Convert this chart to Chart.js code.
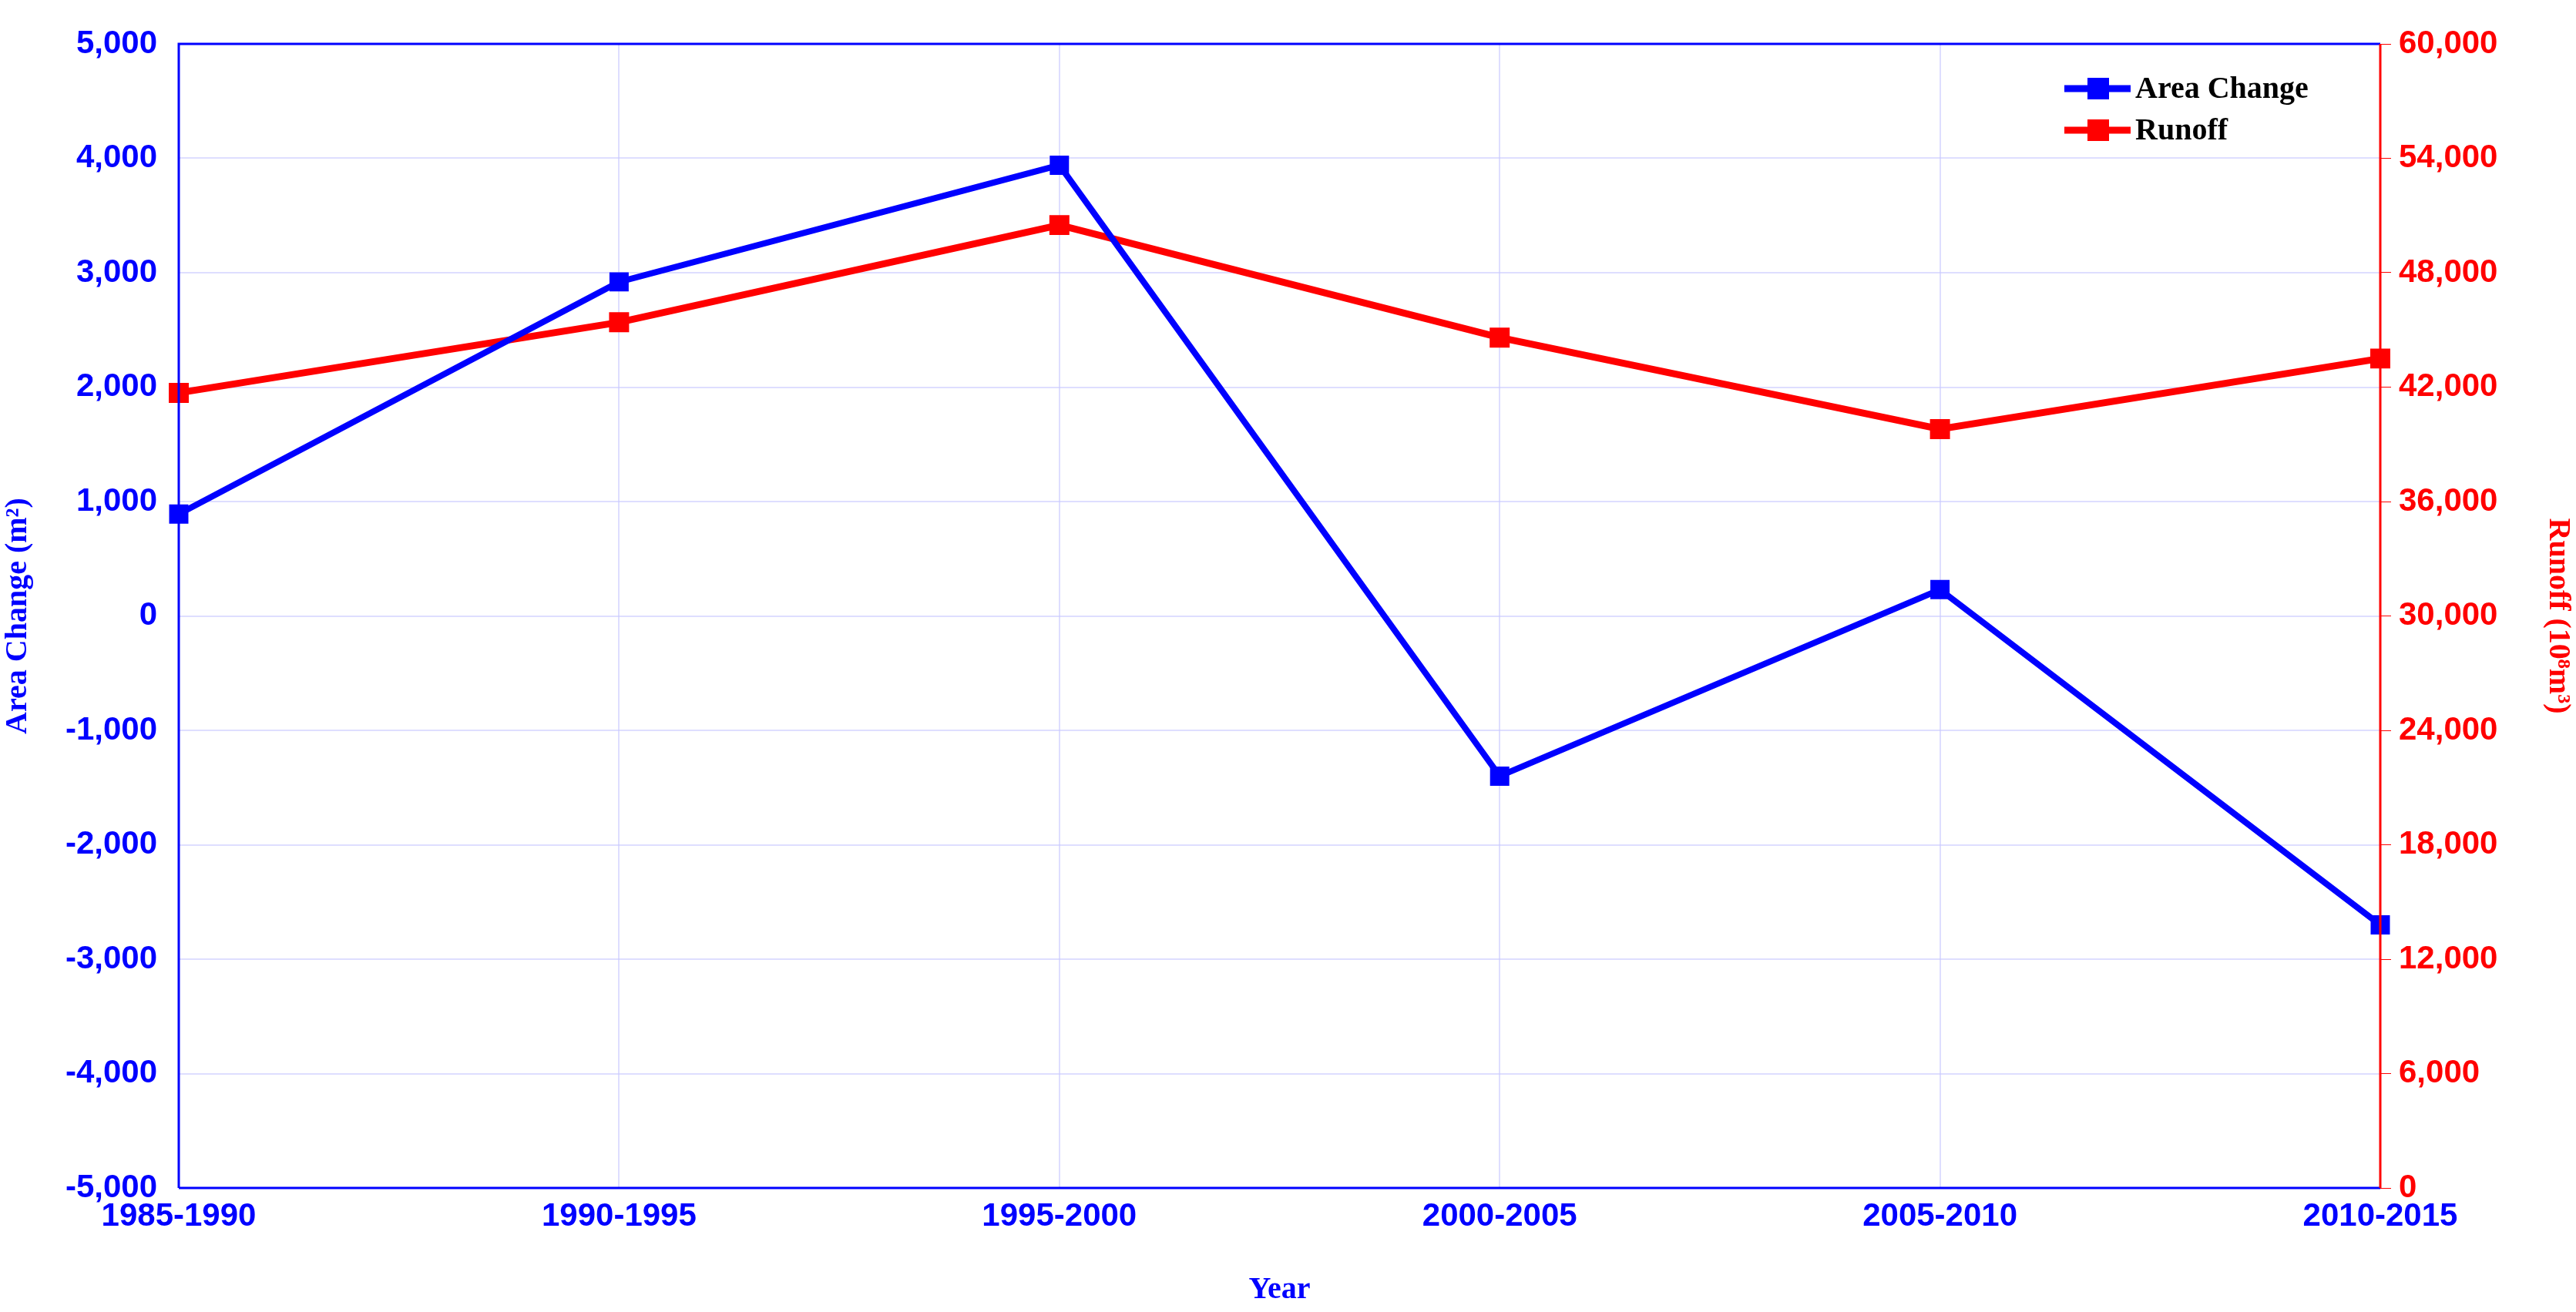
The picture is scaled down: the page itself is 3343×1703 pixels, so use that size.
<!DOCTYPE html>
<html><head><meta charset="utf-8">
<script src="https://cdn.jsdelivr.net/npm/chart.js@4"></script>
<style>html,body{margin:0;padding:0;background:#fff}#c{display:block}</style>
</head><body>
<div style="width:3343px;height:1703px"><canvas id="c"></canvas></div>
<script>
const categories = ['1985-1990','1990-1995','1995-2000','2000-2005','2005-2010','2010-2015'];
const areaChange = [890, 2920, 3940, -1400, 230, -2700];
const runoff = [41700, 45400, 50500, 44600, 39800, 43500];
const tickFont = {family:'"Liberation Sans Narrow","Liberation Sans",sans-serif', size:42, weight:'bold'};
const titleFont = {family:'"Liberation Serif",serif', size:40, weight:'bold'};

const legendPlugin = {
  id:'inlegend',
  afterDraw(chart){
    const ctx=chart.ctx, a=chart.chartArea;
    chart.data.datasets.forEach((ds,i)=>{
      const y=a.top+58+i*54, x0=a.right-410;
      ctx.save();
      ctx.strokeStyle=ds.borderColor; ctx.lineWidth=9;
      ctx.beginPath(); ctx.moveTo(x0,y); ctx.lineTo(x0+86,y); ctx.stroke();
      ctx.fillStyle=ds.borderColor; ctx.fillRect(x0+30,y-14,28,28);
      ctx.fillStyle='#000'; ctx.font='bold 40px "Liberation Serif",serif';
      ctx.textBaseline='middle'; ctx.fillText(ds.label,x0+92,y+2);
      ctx.restore();
    });
  }
};
const borderPlugin = {
  id:'borders',
  afterDraw(chart){
    const ctx=chart.ctx,a=chart.chartArea;
    ctx.save(); ctx.lineWidth=3;
    ctx.strokeStyle='#0000ff';
    ctx.beginPath(); ctx.moveTo(a.left,a.bottom); ctx.lineTo(a.left,a.top); ctx.lineTo(a.right,a.top); ctx.moveTo(a.left,a.bottom); ctx.lineTo(a.right,a.bottom); ctx.stroke();
    ctx.strokeStyle='#ff0000';
    ctx.beginPath(); ctx.moveTo(a.right,a.top); ctx.lineTo(a.right,a.bottom); ctx.stroke();
    ctx.restore();
  }
};

new Chart(document.getElementById('c'),{
  type:'line',
  data:{labels:categories,datasets:[
    {label:'Area Change',data:areaChange,yAxisID:'y',borderColor:'#0000ff',backgroundColor:'#0000ff',borderWidth:8,pointStyle:'rect',pointRadius:12,tension:0},
    {label:'Runoff',data:runoff,yAxisID:'y1',borderColor:'#ff0000',backgroundColor:'#ff0000',borderWidth:9,pointStyle:'rect',pointRadius:12,tension:0}
  ]},
  plugins:[legendPlugin,borderPlugin],
  options:{
    responsive:true,maintainAspectRatio:false,animation:false,
    layout:{padding:{top:57,left:0,right:0,bottom:0}},
    plugins:{legend:{display:false},tooltip:{enabled:false}},
    scales:{
      x:{offset:false,grid:{color:'rgba(200,200,255,0.6)',lineWidth:2,tickLength:0,drawTicks:false},border:{display:false},
         ticks:{color:'#0000ff',font:tickFont,padding:12,maxRotation:0},
         title:{display:true,text:'Year',color:'#0000ff',font:titleFont,padding:{top:0}},
         afterFit(s){s.height=161;}},
      y:{position:'left',min:-5000,max:5000,grid:{color:'rgba(200,200,255,0.6)',lineWidth:2,drawTicks:true,tickLength:0},border:{display:false},
         ticks:{stepSize:1000,color:'#0000ff',font:tickFont,padding:28},
         title:{display:true,text:'Area Change (m²)',color:'#0000ff',font:titleFont,padding:0},
         afterFit(s){s.width=232;}},
      y1:{position:'right',min:0,max:60000,grid:{drawOnChartArea:false,color:'#ff0000',tickLength:14},border:{display:false},
         ticks:{stepSize:6000,color:'#ff0000',font:tickFont,padding:10},
         title:{display:true,text:'Runoff (10⁸m³)',color:'#ff0000',font:titleFont,padding:0},
         afterFit(s){s.width=254;}}
    }
  }
});
</script></body></html>
